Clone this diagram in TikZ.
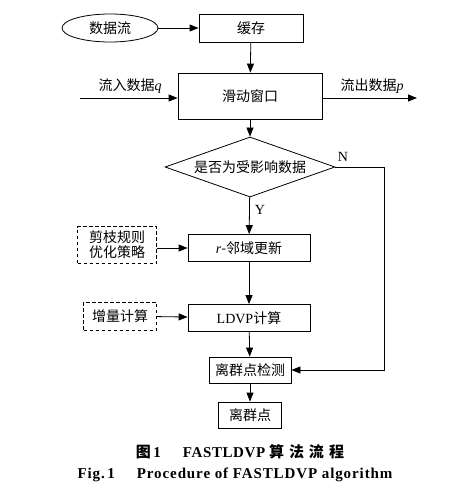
\documentclass[tikz,border=0pt]{standalone}
\usepackage{fontspec}
\setmainfont{Liberation Serif}
\newfontfamily\cjk{Noto Sans CJK SC}
\usetikzlibrary{shapes.geometric,arrows.meta}

\begin{document}
\begin{tikzpicture}[x=1pt,y=-1pt,line width=0.8pt,
   font=\fontsize{14}{16}\selectfont\cjk,
   >={Triangle[length=9pt,width=7pt]},
   box/.style={draw,rectangle,inner sep=0pt},
   dashbox/.style={draw,rectangle,dash pattern=on 3.5pt off 2.5pt,inner sep=0pt,align=center},
   flow/.style={->}]
   \useasboundingbox (0,0) rectangle (456,495);

   % main column
   \node[draw,ellipse,inner sep=0pt,minimum width=96pt,minimum height=28pt] (stream) at (110,28) {数据流};
   \node[box,minimum width=104pt,minimum height=28pt] (cache) at (251,28) {缓存};
   \node[box,minimum width=144pt,minimum height=46pt] (window) at (250,96) {滑动窗口};
   \node[draw,diamond,aspect=2.8,inner sep=0pt,minimum width=170pt,minimum height=60pt] (check) at (250,167) {是否为受影响数据};
   \node[box,minimum width=122pt,minimum height=27pt] (nbr) at (249,248) {{\rmfamily\itshape r}-邻域更新};
   \node[box,minimum width=122pt,minimum height=27pt] (ldvp) at (249,318) {{\rmfamily LDVP}计算};
   \node[box,minimum width=82pt,minimum height=26pt] (detect) at (250,370) {离群点检测};
   \node[box,minimum width=63pt,minimum height=26pt] (outlier) at (250,415) {离群点};

   % side boxes
   \node[dashbox,minimum width=79pt,minimum height=37pt,font=\fontsize{14}{15}\selectfont\cjk] (prune) at (117,245) {剪枝规则\\优化策略};
   \node[dashbox,minimum width=73pt,minimum height=28pt] (incr) at (120,316) {增量计算};

   % in and out
   \coordinate (inpt) at (80,98);
   \coordinate (outpt) at (417,98);
   \coordinate (ncorner) at (384,167);
   \coordinate (scorner) at (384,370);
   \node (inlbl) at (130,86) {流入数据{\rmfamily\itshape q}};
   \node (outlbl) at (372,86) {流出数据{\rmfamily\itshape p}};
   \node[font=\fontsize{14}{15}\selectfont\rmfamily] (nlbl) at (343,157) {N};
   \node[font=\fontsize{14}{15}\selectfont\rmfamily] (ylbl) at (260,210) {Y};

   \draw[flow] (stream) -- (cache);
   \draw[flow] (cache) -- (window);
   \draw[flow] (inpt) -- (inpt -| window.west);
   \draw[flow] (outpt -| window.east) -- (outpt);
   \draw[flow] (window) -- (check);
   \draw[flow] (check) -- (nbr);
   \draw[flow] (check.east) -- (ncorner) -- (scorner) -- (detect.east);
   \draw[flow] (prune.east |- nbr) -- (nbr);
   \draw[flow] (incr) -- (ldvp);
   \draw[flow] (nbr) -- (ldvp);
   \draw[flow] (ldvp) -- (detect);
   \draw[flow] (detect) -- (outlier);

   % caption
   \node[font=\fontsize{15}{17}\selectfont\bfseries] (cap1) at (240,452) {{\cjk 图}\,1\hspace{22pt}{\addfontfeature{LetterSpace=4}FASTLDVP} {\cjk 算\,\,法\,\,流\,\,程}};
   \node[font=\fontsize{15}{17}\selectfont\rmfamily\bfseries\addfontfeature{LetterSpace=6}] (cap2) at (235,475) {Fig.\,1\hspace{22pt}Procedure of FASTLDVP algorithm};
\end{tikzpicture}
\end{document}
